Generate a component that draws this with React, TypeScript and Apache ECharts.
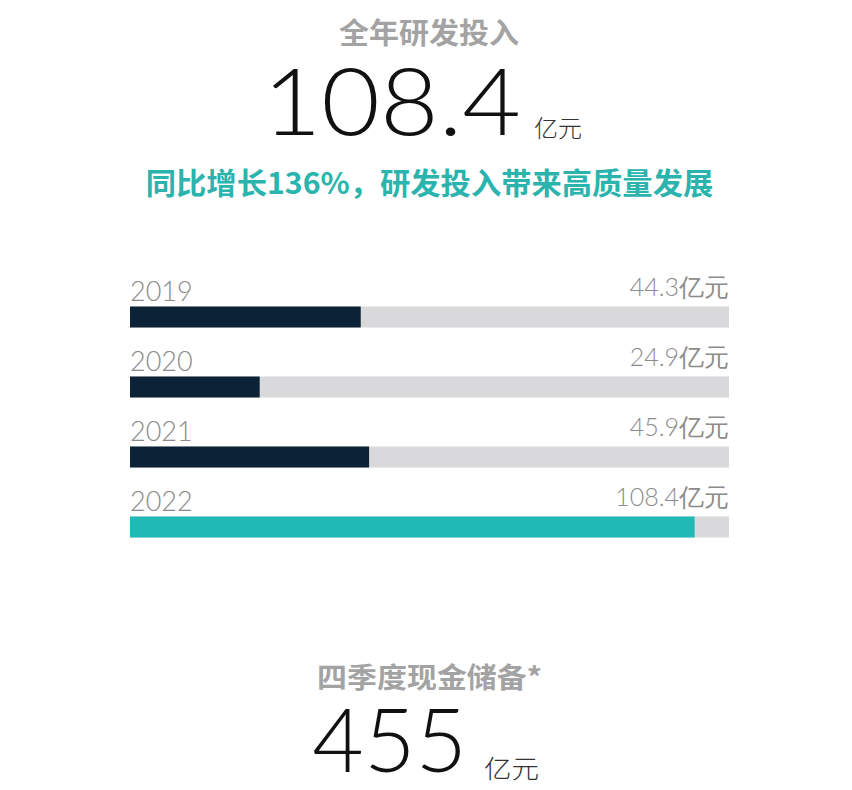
import React from 'react';
import * as echarts from 'echarts';

// 数据
const years = ['2019', '2020', '2021', '2022'];
const rdValues = [44.3, 24.9, 45.9, 108.4];
const trackMax = 115;
const unit = '亿元';
const totalRd = '108.4';
const growthText = '同比增长136%，研发投入带来高质量发展';
const cashReserve = '455';

const NUM_FONT = 'Lato, "Noto Sans", sans-serif';
const CJK_FONT = '"Noto Sans CJK SC", "Noto Sans", sans-serif';
const NAVY = '#0c2237';
const TEAL = '#20b9b6';
const LABEL_GRAY = '#8c8c8c';

const App: React.FC = () => {
  const chartRef = React.useRef<HTMLDivElement>(null);

  React.useEffect(() => {
    if (!chartRef.current) return;
    const chart = echarts.init(chartRef.current, undefined, { renderer: 'svg' });

    const option = {
      animation: false,
      backgroundColor: '#ffffff',
      grid: { left: 130, right: 123, top: 282, height: 280 },
      xAxis: {
        type: 'value',
        min: 0,
        max: trackMax,
        show: false,
      },
      yAxis: {
        type: 'category',
        data: years,
        inverse: true,
        show: false,
      },
      series: [
        {
          type: 'bar',
          data: rdValues.map((v, i) => ({
            value: v,
            itemStyle: { color: i === rdValues.length - 1 ? TEAL : NAVY },
          })),
          barWidth: 21,
          showBackground: true,
          backgroundStyle: { color: '#d9d9db' },
          label: {
            show: true,
            position: [0, -3],
            align: 'left',
            verticalAlign: 'bottom',
            formatter: '{b}',
            color: LABEL_GRAY,
            fontFamily: NUM_FONT,
            fontWeight: 300,
            fontSize: 27,
          },
          z: 2,
        },
        {
          // 透明占位，仅用于右侧数值标签
          type: 'bar',
          data: rdValues.map(() => trackMax),
          barWidth: 21,
          barGap: '-100%',
          itemStyle: { color: 'rgba(0,0,0,0)' },
          label: {
            show: true,
            position: ['100%', -8],
            align: 'right',
            verticalAlign: 'bottom',
            formatter: (p: any) => `${rdValues[p.dataIndex]}${unit}`,
            color: LABEL_GRAY,
            fontFamily: NUM_FONT,
            fontWeight: 300,
            fontSize: 25,
          },
          z: 1,
        },
      ],
      graphic: [
        {
          type: 'text',
          x: 429,
          y: 31,
          scaleX: 1.035,
          style: {
            text: '全年研发投入',
            fill: '#a3a3a3',
            font: `bold 29px ${CJK_FONT}`,
            textAlign: 'center',
            textVerticalAlign: 'middle',
          },
        },
        {
          type: 'text',
          x: 521,
          y: 100,
          scaleX: 1.1,
          style: {
            text: totalRd,
            fill: '#111111',
            font: `300 92px ${NUM_FONT}`,
            textAlign: 'right',
            textVerticalAlign: 'middle',
          },
        },
        {
          type: 'text',
          x: 534,
          y: 126,
          style: {
            text: unit,
            fill: '#333333',
            font: `300 24px ${CJK_FONT}`,
            textAlign: 'left',
            textVerticalAlign: 'middle',
          },
        },
        {
          type: 'text',
          x: 429.5,
          y: 181,
          scaleX: 1.01,
          style: {
            text: growthText,
            fill: '#2bb3ad',
            font: `bold 30px ${CJK_FONT}`,
            textAlign: 'center',
            textVerticalAlign: 'middle',
          },
        },
        {
          type: 'text',
          x: 429.5,
          y: 675,
          scaleX: 1.07,
          style: {
            text: '四季度现金储备*',
            fill: '#a3a3a3',
            font: `bold 28px ${CJK_FONT}`,
            textAlign: 'center',
            textVerticalAlign: 'middle',
          },
        },
        {
          type: 'text',
          x: 467,
          y: 738,
          scaleX: 1.01,
          style: {
            text: cashReserve,
            fill: '#111111',
            font: `300 88px ${NUM_FONT}`,
            textAlign: 'right',
            textVerticalAlign: 'middle',
          },
        },
        {
          type: 'text',
          x: 484,
          y: 768,
          scaleX: 1.1,
          style: {
            text: unit,
            fill: '#333333',
            font: `300 25px ${CJK_FONT}`,
            textAlign: 'left',
            textVerticalAlign: 'middle',
          },
        },
      ],
    };

    chart.setOption(option);
    return () => {
      chart.dispose();
    };
  }, []);

  return (
    <div
      ref={chartRef}
      style={{ position: 'fixed', left: 0, top: 0, width: 852, height: 790, background: '#fff' }}
    />
  );
};

export default App;
